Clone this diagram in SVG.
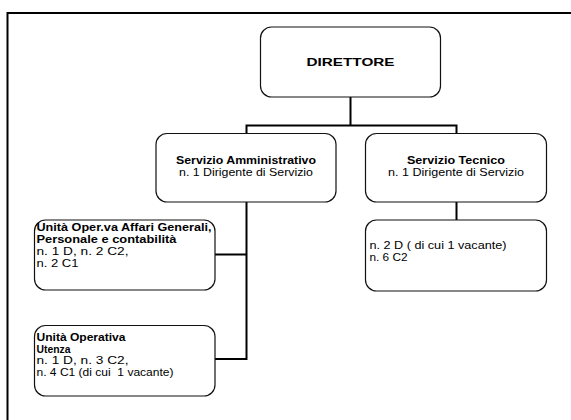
<svg xmlns="http://www.w3.org/2000/svg" width="571" height="420" viewBox="0 0 571 420">
<style>
.box{fill:#fff;stroke:#111;stroke-width:1.2}
.con{fill:none;stroke:#000;stroke-width:2}
text{font-family:"Liberation Sans",Arial,sans-serif;font-size:10.7px;fill:#000}
.b{font-weight:bold}
.c{text-anchor:middle}
</style>
<rect width="571" height="420" fill="#fff"/>
<rect x="7.5" y="13" width="600" height="440" fill="none" stroke="#000" stroke-width="2"/>
<g id="connectors">
<path class="con" d="M350.5 97V125.5M246.5 125.5H456.5M246.5 124.5V359M456.5 124.5V220M215 254.5H247.5M215 359H247.5"/>
</g>
<g id="direttore">
<rect class="box" x="260.5" y="27" width="180" height="70" rx="11"/>
<text class="b c" x="350.5" y="65.5" style="font-size:11.5px" textLength="88" lengthAdjust="spacingAndGlyphs">DIRETTORE</text>
</g>
<g id="servizio-amministrativo">
<rect class="box" x="156" y="133.5" width="180" height="68.5" rx="11"/>
<text class="b c" x="246" y="163.5" textLength="140" lengthAdjust="spacingAndGlyphs">Servizio Amministrativo</text>
<text class="c" x="246" y="175.5" textLength="134" lengthAdjust="spacingAndGlyphs">n. 1 Dirigente di Servizio</text>
</g>
<g id="servizio-tecnico">
<rect class="box" x="365.5" y="133.5" width="181" height="68.5" rx="11"/>
<text class="b c" x="456" y="163.5" textLength="98" lengthAdjust="spacingAndGlyphs">Servizio Tecnico</text>
<text class="c" x="456" y="175.5" textLength="136" lengthAdjust="spacingAndGlyphs">n. 1 Dirigente di Servizio</text>
</g>
<g id="tecnico-staff">
<rect class="box" x="365.5" y="220" width="181" height="71" rx="11"/>
<text x="369.5" y="249.3" textLength="137" lengthAdjust="spacingAndGlyphs">n. 2 D ( di cui 1 vacante)</text>
<text x="369.5" y="260.6" textLength="38" lengthAdjust="spacingAndGlyphs">n. 6 C2</text>
</g>
<g id="unita-affari-generali">
<rect class="box" x="34.5" y="220" width="180.5" height="70" rx="11"/>
<text class="b" x="36.5" y="231.2" textLength="175" lengthAdjust="spacingAndGlyphs">Unità Oper.va Affari Generali,</text>
<text class="b" x="36.5" y="243.1" textLength="140" lengthAdjust="spacingAndGlyphs">Personale e contabilità</text>
<text x="36.5" y="254.9" textLength="92" lengthAdjust="spacingAndGlyphs">n. 1 D, n. 2 C2,</text>
<text x="36.5" y="266.6" textLength="42" lengthAdjust="spacingAndGlyphs">n. 2 C1</text>
</g>
<g id="unita-utenza">
<rect class="box" x="34.5" y="325.5" width="180.5" height="70.5" rx="11"/>
<text class="b" x="36.5" y="340.6" textLength="89" lengthAdjust="spacingAndGlyphs">Unità Operativa</text>
<text class="b" x="36.5" y="352.5" textLength="34" lengthAdjust="spacingAndGlyphs">Utenza</text>
<text x="36.5" y="364.2" textLength="92" lengthAdjust="spacingAndGlyphs">n. 1 D, n. 3 C2,</text>
<text x="36.5" y="375.9" textLength="137" lengthAdjust="spacingAndGlyphs" style="white-space:pre">n. 4 C1 (di cui  1 vacante)</text>
</g>
</svg>
